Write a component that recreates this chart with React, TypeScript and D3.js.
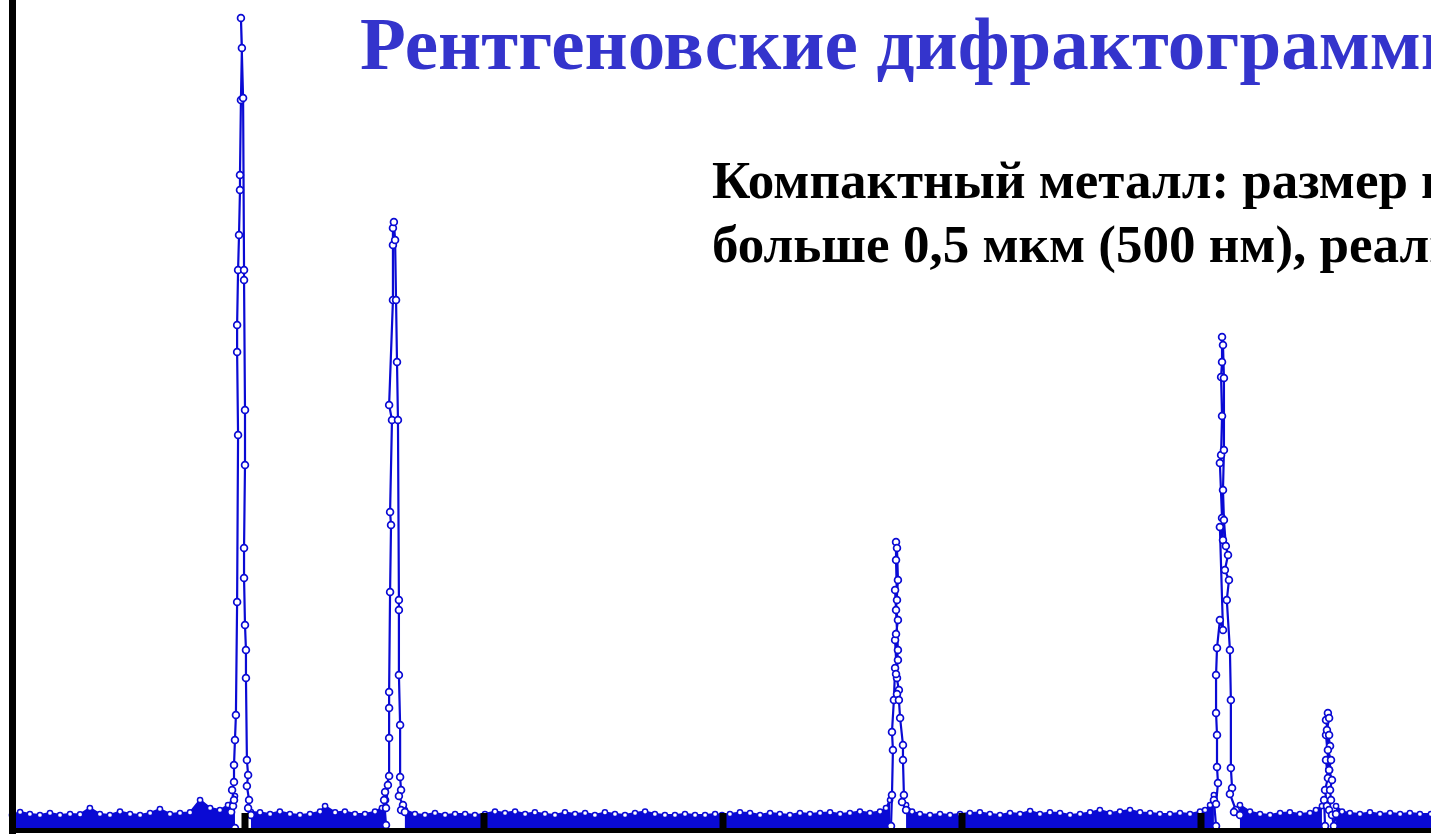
import React from "react";
import * as d3 from "d3";

type P = [number, number];

// 2θ (deg), intensity (counts) — background between reflections
const noiseA: P[] = [
  [30.25, 75], [30.59, 90], [31.0, 80], [31.42, 75], [31.84, 85], [32.26, 75], [32.68, 80],
  [33.1, 78], [33.51, 110], [33.93, 80], [34.35, 75], [34.77, 92], [35.19, 80], [35.61, 75],
  [36.03, 85], [36.44, 105], [36.86, 80], [37.28, 85], [37.7, 88], [38.12, 150], [38.54, 110],
  [38.95, 100], [39.29, 125], [39.58, 170],
];
const noiseB: P[] = [
  [40.25, 90], [40.63, 88], [41.05, 80], [41.46, 92], [41.88, 80], [42.3, 75], [42.72, 80],
  [43.14, 92], [43.35, 120], [43.77, 88], [44.18, 92], [44.6, 80], [45.02, 80], [45.44, 92],
  [45.73, 110], [45.9, 150],
];
const noiseC: P[] = [
  [46.69, 100], [47.11, 80], [47.53, 75], [47.95, 85], [48.37, 75], [48.79, 80], [49.21, 80],
  [49.62, 75], [50.04, 80], [50.46, 92], [50.88, 85], [51.3, 92], [51.72, 80], [52.13, 88],
  [52.55, 80], [52.97, 75], [53.39, 88], [53.81, 80], [54.23, 85], [54.64, 75], [55.06, 88],
  [55.48, 80], [55.9, 75], [56.32, 85], [56.74, 92], [57.15, 80], [57.57, 75], [57.99, 75],
  [58.41, 80], [58.83, 75], [59.25, 75], [59.67, 80], [59.96, 75], [60.29, 80], [60.71, 88],
  [61.13, 85], [61.55, 75], [61.97, 85], [62.38, 80], [62.8, 75], [63.22, 85], [63.64, 80],
  [64.06, 85], [64.48, 88], [64.9, 80], [65.31, 85], [65.73, 92], [66.15, 85], [66.57, 92],
  [66.82, 110], [66.99, 150],
];
const noiseD: P[] = [
  [67.66, 125], [67.91, 92], [68.24, 80], [68.66, 75], [69.08, 80], [69.5, 75], [69.92, 80],
  [70.33, 85], [70.75, 88], [71.17, 80], [71.59, 75], [72.01, 85], [72.43, 80], [72.85, 95],
  [73.26, 80], [73.68, 88], [74.1, 85], [74.52, 75], [74.94, 80], [75.36, 88], [75.77, 100],
  [76.19, 85], [76.61, 92], [77.03, 100], [77.45, 88], [77.87, 85], [78.28, 80], [78.7, 80],
  [79.12, 85], [79.54, 80], [79.96, 92], [80.17, 100], [80.38, 125], [80.54, 175],
];
const noiseE: P[] = [
  [81.63, 125], [82.05, 92], [82.47, 80], [82.89, 75], [83.31, 85], [83.72, 88], [84.14, 80],
  [84.56, 85], [84.81, 100], [85.06, 120],
];
const noiseF: P[] = [
  [85.65, 120], [85.9, 92], [86.23, 85], [86.65, 80], [87.07, 88], [87.49, 80], [87.91, 85],
  [88.33, 80], [88.74, 85], [89.16, 80], [89.62, 80], [90.0, 80],
];

// reflections: rising flank, apex, falling flank
const peak1: P[] = [
  [39.58, 10], [39.42, 90], [39.5, 120], [39.54, 150], [39.46, 200], [39.54, 240],
  [39.54, 325], [39.58, 450], [39.62, 575], [39.67, 1140], [39.71, 1975], [39.67, 2390],
  [39.67, 2525], [39.71, 2800], [39.75, 2975], [39.79, 3200], [39.79, 3275], [39.83, 3650],
  [39.87, 3910], [39.83, 4060], [39.92, 3660], [39.96, 2800], [39.96, 2750], [40.0, 2100],
  [40.0, 1825], [39.96, 1410], [39.96, 1260], [40.0, 1025], [40.04, 900], [40.04, 760],
  [40.08, 350], [40.13, 275], [40.08, 220], [40.17, 150], [40.13, 110], [40.25, 75],
];
const peak2: P[] = [
  [45.9, 25], [45.82, 150], [45.9, 110], [45.98, 225], [45.86, 190], [46.03, 270],
  [46.03, 460], [46.03, 610], [46.03, 690], [46.07, 1190], [46.11, 1525], [46.07, 1590],
  [46.15, 2050], [46.03, 2125], [46.19, 2650], [46.19, 2925], [46.19, 3010], [46.23, 3040],
  [46.28, 2950], [46.32, 2650], [46.36, 2340], [46.4, 2050], [46.44, 1150], [46.44, 1100],
  [46.44, 775], [46.49, 525], [46.49, 265], [46.53, 200], [46.44, 170], [46.61, 125],
  [46.53, 100], [46.69, 90],
];
const peak3: P[] = [
  [67.03, 20], [67.07, 175], [67.11, 400], [67.07, 490], [67.15, 650], [67.2, 810],
  [67.28, 760], [67.2, 950], [67.32, 900], [67.2, 1200], [67.28, 1150], [67.24, 1350],
  [67.24, 1440], [67.28, 1410], [67.32, 1250], [67.24, 1100], [67.32, 1050], [67.24, 980],
  [67.32, 850], [67.24, 780], [67.36, 700], [67.28, 680], [67.36, 650], [67.41, 560],
  [67.53, 425], [67.53, 350], [67.57, 175], [67.49, 140], [67.66, 100],
];
const peak4: P[] = [
  [80.63, 20], [80.54, 150], [80.63, 130], [80.71, 235], [80.67, 315], [80.67, 475],
  [80.63, 585], [80.63, 775], [80.67, 910], [80.79, 1050], [80.92, 1000], [80.79, 1515],
  [80.92, 1450], [80.88, 1560], [80.79, 1835], [80.84, 1875], [80.88, 2070], [80.84, 2265],
  [80.88, 2340], [80.88, 2465], [80.92, 2425], [80.96, 2260], [80.96, 1900], [80.92, 1700],
  [80.96, 1550], [81.04, 1420], [81.13, 1375], [81.0, 1300], [81.17, 1250], [81.08, 1150],
  [81.21, 900], [81.25, 650], [81.25, 310], [81.3, 210], [81.21, 180], [81.46, 100],
  [81.38, 90], [81.63, 75],
];
const peak5: P[] = [
  [85.19, 20], [85.15, 150], [85.27, 120], [85.19, 200], [85.31, 260], [85.23, 350],
  [85.36, 300], [85.23, 475], [85.4, 420], [85.23, 550], [85.31, 585], [85.36, 560],
  [85.27, 500], [85.36, 475], [85.31, 400], [85.44, 350], [85.36, 300], [85.48, 250],
  [85.4, 200], [85.44, 150], [85.36, 100], [85.48, 75], [85.56, 20], [85.65, 80],
];

const noiseSegments = [noiseA, noiseB, noiseC, noiseD, noiseE, noiseF];
const peaks = [peak1, peak2, peak3, peak4, peak5];
const tickValues = [40, 50, 60, 70, 80];

const titleText = "Рентгеновские дифрактограммы";
const noteLines = [
  "Компактный металл: размер кристаллитов",
  "больше 0,5 мкм (500 нм), реальная",
];

const BLUE = "#0a0ad4";
const TITLE_BLUE = "#3434cc";

export default function App() {
  const W = 1431;
  const H = 836;
  const x = d3.scaleLinear().domain([40, 80]).range([245, 1201]);
  const y = d3.scaleLinear().domain([0, 4100]).range([830, 10]);
  const line = d3.line<P>().x((d) => x(d[0])).y((d) => y(d[1]));
  const area = d3
    .area<P>()
    .x((d) => x(d[0]))
    .y0(y(0))
    .y1((d) => y(d[1]));

  return (
    <svg
      width={W}
      height={H}
      style={{ position: "absolute", left: 0, top: 0, display: "block", background: "#fff" }}
    >
      <rect x={0} y={0} width={W} height={H} fill="#ffffff" />
      <text
        x={360}
        y={69}
        fill={TITLE_BLUE}
        fontFamily="'Liberation Serif', 'Times New Roman', serif"
        fontWeight="bold"
        fontSize={75}
      >
        {titleText}
      </text>
      {noteLines.map((t, i) => (
        <text
          key={i}
          x={712}
          y={198 + i * 64}
          fill="#000"
          fontFamily="'Liberation Serif', 'Times New Roman', serif"
          fontWeight="bold"
          fontSize={53}
        >
          {t}
        </text>
      ))}

      {noiseSegments.map((seg, i) => (
        <g key={"n" + i}>
          <path d={area(seg) || ""} fill={BLUE} />
          <path d={line(seg) || ""} fill="none" stroke={BLUE} strokeWidth={2} />
          {seg.map((d, j) => (
            <circle
              key={j}
              cx={x(d[0])}
              cy={y(d[1])}
              r={2.6}
              fill="#fff"
              stroke={BLUE}
              strokeWidth={1.5}
            />
          ))}
        </g>
      ))}

      {peaks.map((pk, i) => (
        <g key={"p" + i}>
          <path d={line(pk) || ""} fill="none" stroke={BLUE} strokeWidth={2.2} />
          {pk.map((d, j) => (
            <circle
              key={j}
              cx={x(d[0])}
              cy={y(d[1])}
              r={3.4}
              fill="#fff"
              stroke={BLUE}
              strokeWidth={1.7}
            />
          ))}
        </g>
      ))}

      {/* axes */}
      <rect x={9} y={0} width={7} height={834} fill="#000" />
      <rect x={9} y={828} width={W - 9} height={5} fill="#000" />
      {tickValues.map((v) => (
        <rect key={v} x={x(v) - 3.5} y={813} width={7} height={20} fill="#000" />
      ))}
    </svg>
  );
}
